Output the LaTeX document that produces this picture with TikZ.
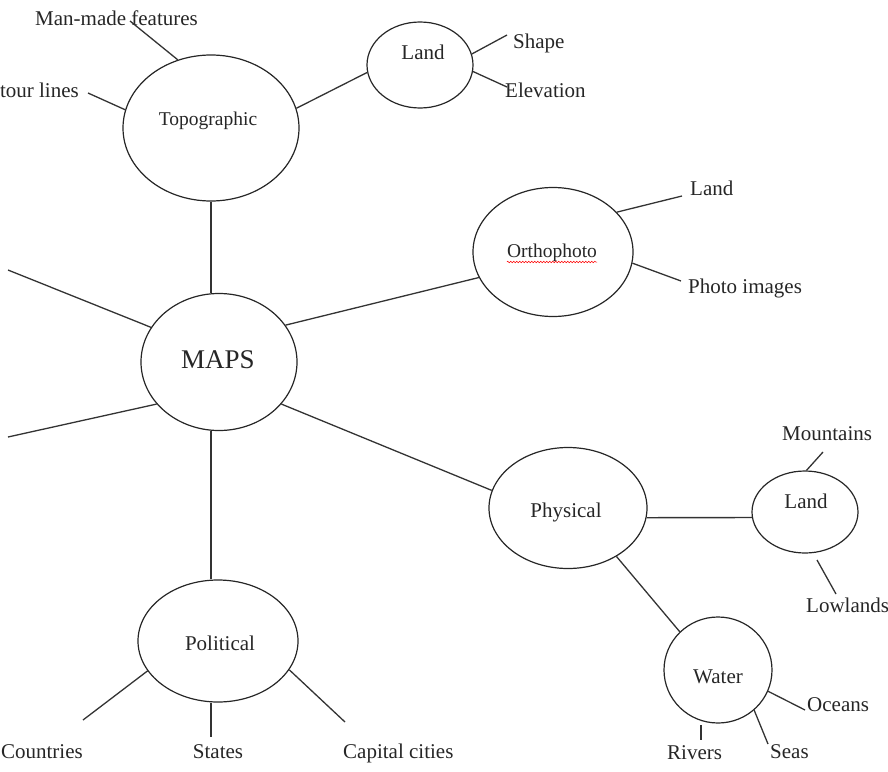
\documentclass[tikz,border=0pt]{standalone}
\usepackage{fontspec}
\setmainfont{Liberation Serif}
\usetikzlibrary{shapes.geometric,decorations.pathmorphing}
\begin{document}
\begin{tikzpicture}[x=1pt,y=-1pt,
  ell/.style={draw=black!85, ellipse, line width=1.2pt, inner sep=0pt},
  lbl/.style={inner sep=0pt, text=black!85, font=\fontsize{21}{24}\selectfont},
  smlbl/.style={inner sep=0pt, text=black!85, font=\fontsize{19.5}{23}\selectfont},
  biglbl/.style={inner sep=0pt, text=black!85, font=\fontsize{27}{30}\selectfont},
  conn/.style={draw=black!80, line width=1.3pt}]
\useasboundingbox (0,0) rectangle (888,771);
\clip (0,0) rectangle (888,771);

% ellipses
\node[ell, minimum width=176pt, minimum height=146pt] (topo) at (211,128) {};
\node[ell, minimum width=106pt, minimum height=86pt] (tland) at (420,65) {};
\node[ell, minimum width=156pt, minimum height=137pt] (maps) at (219,362) {};
\node[ell, minimum width=160pt, minimum height=129pt] (ortho) at (553,252) {};
\node[ell, minimum width=158pt, minimum height=121pt] (phys) at (568,508) {};
\node[ell, minimum width=106pt, minimum height=82pt] (pland) at (805,512) {};
\node[ell, minimum width=108pt, minimum height=106pt] (water) at (718,670) {};
\node[ell, minimum width=160pt, minimum height=122pt] (pol) at (218,641) {};

% texts in ellipses
\node[smlbl, anchor=base] (topot) at (208,125) {Topographic};
\node[lbl, anchor=base] (tlandt) at (423,59) {Land};
\node[biglbl, anchor=base] (mapst) at (218,368) {MAPS};
\node[smlbl, anchor=base] (orthot) at (552,257) {Orthophoto};
\node[lbl, anchor=base] (physt) at (566,517) {Physical};
\node[lbl, anchor=base] (plandt) at (806,508) {Land};
\node[lbl, anchor=base] (watert) at (718,683) {Water};
\node[lbl, anchor=base] (polt) at (220,650) {Political};

\draw[red, line width=0.5pt, decorate, decoration={snake, amplitude=0.8pt, segment length=3pt}]
  ([yshift=-5pt]orthot.base west) -- ([yshift=-5pt]orthot.base east);

% outer labels
\node[lbl, anchor=base west] (manmade) at (35,25) {Man-made features};
\node[lbl, anchor=base east] (contour) at (79,97) {Contour lines};
\node[lbl, anchor=base west] (shape) at (513,48) {Shape};
\node[lbl, anchor=base west] (elev) at (505,97) {Elevation};
\node[lbl, anchor=base west] (oland) at (690,195) {Land};
\node[lbl, anchor=base west] (photo) at (688,293) {Photo images};
\node[lbl, anchor=base west] (mount) at (782,440) {Mountains};
\node[lbl, anchor=base west] (low) at (806,612) {Lowlands};
\node[lbl, anchor=base west] (oceans) at (807,711) {Oceans};
\node[lbl, anchor=base west] (seas) at (770,758) {Seas};
\node[lbl, anchor=base west] (rivers) at (667,759) {Rivers};
\node[lbl, anchor=base east] (countries) at (83,758) {Countries};
\node[lbl, anchor=base] (states) at (218,758) {States};
\node[lbl, anchor=base west] (capital) at (343,758) {Capital cities};

% free ends
\coordinate (cman) at (130,21);
\coordinate (ccontour) at (88,93);
\coordinate (cshape) at (507,35);
\coordinate (celev) at (507,87);
\coordinate (coland) at (682,196);
\coordinate (cphoto) at (681,281);
\coordinate (cmount) at (823,452);
\coordinate (clowa) at (817,560);
\coordinate (clowb) at (836,594);
\coordinate (coceans) at (805,710);
\coordinate (cseas) at (768,744);
\coordinate (criva) at (701,725);
\coordinate (crivb) at (701,740);
\coordinate (ccount) at (83,720);
\coordinate (cstates) at (211,737);
\coordinate (ccap) at (345,722);
\coordinate (cnw) at (8,270);
\coordinate (csw) at (8,437);

% connectors
\draw[conn] (topo.116) -- (cman);
\draw[conn] (topo.168) -- (ccontour);
\draw[conn] (topo.13) -- (tland.188);
\draw[conn] (tland.12) -- (cshape);
\draw[conn] (tland.-7) -- (celev);
\draw[conn] (topo.south) -- (maps.north -| topo.south);
\draw[conn] (maps.29) -- (ortho.199);
\draw[conn] (ortho.32) -- (coland);
\draw[conn] (ortho.-8) -- (cphoto);
\draw[conn] (maps.153) -- (cnw);
\draw[conn] (maps.214) -- (csw);
\draw[conn] (maps.-34) -- (phys.167);
\draw[conn] (phys.-7) -- (pland.186.6);
\draw[conn] (pland.88) -- (cmount);
\draw[conn] (clowa) -- (clowb);
\draw[conn] (phys.-45.5) -- (water.135.7);
\draw[conn] (water.-23) -- (coceans);
\draw[conn] (water.-48.6) -- (cseas);
\draw[conn] (criva) -- (crivb);
\draw[conn] (maps.south -| cstates) -- (pol.north -| cstates);
\draw[conn] (pol.203.6) -- (ccount);
\draw[conn] (pol.south -| cstates) -- (cstates);
\draw[conn] (pol.-22.7) -- (ccap);
\end{tikzpicture}
\end{document}
